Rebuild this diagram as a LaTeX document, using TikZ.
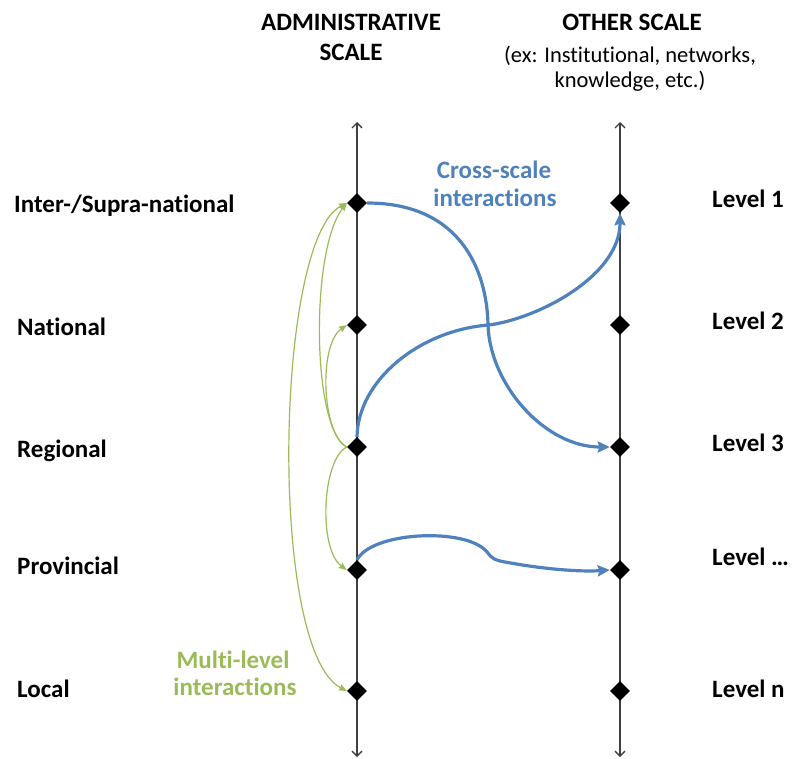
\documentclass[tikz,border=0pt]{standalone}
\usepackage{fontspec}
\setmainfont{Carlito}[RawFeature={-liga;-clig;-calt}]
\usetikzlibrary{arrows.meta,shapes.geometric}
\definecolor{xblue}{HTML}{4F81BD}
\definecolor{xgreen}{HTML}{9BBB59}
\definecolor{axisgray}{HTML}{404040}
\tikzset{
  lvl/.style={diamond, fill=black, minimum width=20pt, minimum height=20pt, inner sep=0pt},
  axisline/.style={draw=axisgray, line width=1.3pt,
    {Straight Barb[length=5pt,width=10pt]}-{Straight Barb[length=5pt,width=10pt]}},
  crossarrow/.style={draw=xblue, line width=3.2pt, -{Stealth[length=12pt,width=11pt,inset=1.5pt]}},
  multiarrow/.style={draw=xgreen, line width=1.2pt, -{Stealth[length=8pt,width=6.5pt,inset=1pt]}},
  multiboth/.style={draw=xgreen, line width=1.2pt,
    {Stealth[length=8pt,width=6.5pt,inset=1pt]}-{Stealth[length=8pt,width=6.5pt,inset=1pt]}},
  lab/.style={font=\bfseries\fontsize{25}{30}\selectfont, inner sep=0pt},
  sub/.style={font=\fontsize{22.5}{25}\selectfont, inner sep=0pt},
}
\begin{document}
\begin{tikzpicture}[x=1pt,y=-1pt]
\useasboundingbox (0,0) rectangle (792,758);
% axes
\coordinate (AT) at (357,122);
\coordinate (AB) at (357,757);
\coordinate (BT) at (620,122);
\coordinate (BB) at (620,757);
\draw[axisline] (AB) -- (AT);
\draw[axisline] (BB) -- (BT);
% level diamonds
\node[lvl] (L1) at (357,203) {};
\node[lvl] (L2) at (357,325) {};
\node[lvl] (L3) at (357,447) {};
\node[lvl] (L4) at (357,570) {};
\node[lvl] (L5) at (357,691) {};
\node[lvl] (R1) at (620,203) {};
\node[lvl] (R2) at (620,325) {};
\node[lvl] (R3) at (620,447) {};
\node[lvl] (R4) at (620,570) {};
\node[lvl] (R5) at (620,691) {};
% titles
\node[lab, anchor=base] (t1) at (351,30) {ADMINISTRATIVE};
\node[lab, anchor=base] (t2) at (351,60) {SCALE};
\node[lab, anchor=base] (t3) at (632,30) {OTHER SCALE};
\node[sub, anchor=base] (t4) at (630,62) {(ex: Institutional, networks,};
\node[sub, anchor=base] (t5) at (630,87) {knowledge, etc.)};
% left labels
\node[lab, anchor=base west] (n1) at (14,212) {Inter-/Supra-national};
\node[lab, anchor=base west] (n2) at (17,335) {National};
\node[lab, anchor=base west] (n3) at (17,457) {Regional};
\node[lab, anchor=base west] (n4) at (17,574) {Provincial};
\node[lab, anchor=base west] (n5) at (17,697) {Local};
% right labels
\node[lab, anchor=base west] (m1) at (712,207) {Level 1};
\node[lab, anchor=base west] (m2) at (712,329) {Level 2};
\node[lab, anchor=base west] (m3) at (712,451) {Level 3};
\node[lab, anchor=base west] (m4) at (712,565) {Level …};
\node[lab, anchor=base west] (m5) at (712,697) {Level n};
% interaction labels
\node[lab, text=xblue, anchor=base] (c1) at (494,178) {Cross-scale};
\node[lab, text=xblue, anchor=base] (c2) at (495,206) {interactions};
\node[lab, text=xgreen, anchor=base] (g1) at (233,668) {Multi-level};
\node[lab, text=xgreen, anchor=base] (g2) at (235,695) {interactions};
% cross-scale arrows
\draw[crossarrow] (L1.east) .. controls (460,203) and (487,270) .. (488,325)
  .. controls (490,385) and (545,447) .. (R3.west);
\draw[crossarrow] (L3.north) .. controls (358,380) and (420,330) .. (489,325)
  .. controls (540,318) and (620,275) .. (R1.south);
\draw[crossarrow] (L4.north) .. controls (372,532) and (460,528) .. (484,549)
  .. controls (491,555) and (489,558) .. (500,561)
  .. controls (540,569) and (580,572) .. (R4.west);
% multi-level arrows
\draw[multiarrow] (L3.west) .. controls (312,430) and (310,250) .. (L1.west);
\draw[multiarrow] (L3.west) .. controls (322,435) and (318,345) .. (L2.west);
\draw[multiarrow] (L3.west) .. controls (322,459) and (318,549) .. (L4.west);
\draw[multiboth] (L5.west) .. controls (268,650) and (275,240) .. (L1.west);
\end{tikzpicture}
\end{document}
